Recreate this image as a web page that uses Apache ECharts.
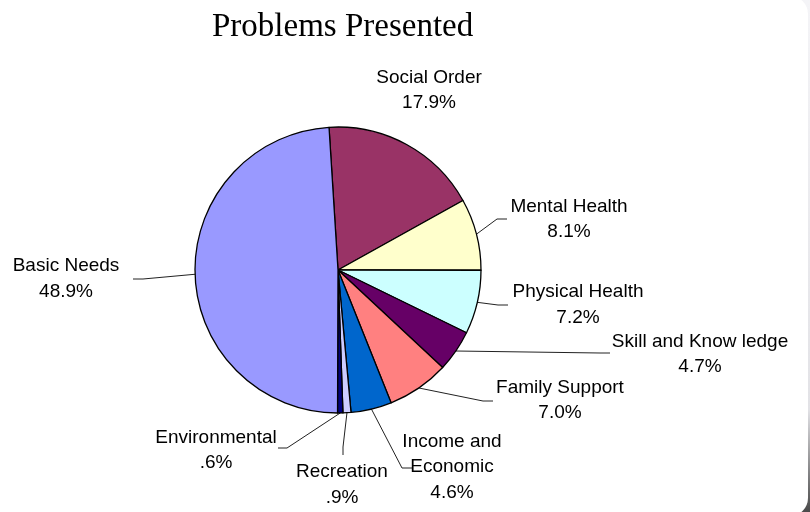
<!DOCTYPE html>
<html>
<head>
<meta charset="utf-8">
<script src="https://cdn.jsdelivr.net/npm/echarts@6/dist/echarts.min.js"></script>
<style>html,body{margin:0;padding:0;background:#fff}#c{width:810px;height:512px}</style>
</head>
<body>
<div id="c"></div>
<script>
// ---- data ----
const titleText = 'Problems Presented';
const categories = ['Social Order', 'Mental Health', 'Physical Health', 'Skill and Know ledge',
  'Family Support', 'Income and Economic', 'Recreation', 'Environmental', 'Basic Needs'];
const values = [17.9, 8.1, 7.2, 4.7, 7.0, 4.6, 0.9, 0.6, 48.9];
const colors = ['#993366', '#FFFFCC', '#CCFFFF', '#660066', '#FF8080', '#0066CC', '#CCCCFF', '#000080', '#9999FF'];

// ---- label layout (label block centre, leader line elbow & end) ----
const labelCenters = [[429, 90.5], [569, 219.5], [578, 305], [700, 354.5], [560, 400.5],
  [452, 467], [342, 485], [216, 450.5], [66, 279]];
const lineElbows = [null, [497, 219], [498, 305], [600, 353], [483, 401], [402, 468], [343, 447], [287, 448], [143, 279]];
const lineEnds = [null, [507, 219], [508, 305], [610, 353], [493, 401], [412, 468], [343, 455], [278, 448], [133, 279]];

function pct(v) {
  let s = v.toFixed(1);
  if (s.startsWith('0')) s = s.slice(1);
  return s + '%';
}

const data = categories.map((name, i) => ({
  name: name,
  value: values[i],
  itemStyle: { color: colors[i] },
  labelLine: { show: lineEnds[i] !== null }
}));

const chart = echarts.init(document.getElementById('c'), null, { renderer: 'canvas' });
chart.setOption({
  animation: false,
  backgroundColor: {
    type: 'linear', x: 0, y: 0, x2: 0, y2: 1,
    colorStops: [{ offset: 0, color: '#f4f4f7' }, { offset: 0.8, color: '#e2e2e6' }, { offset: 1, color: '#4a4a4a' }]
  },
  graphic: [{
    type: 'rect', z: -10, silent: true,
    shape: { x: -20, y: -4, width: 828, height: 520, r: 18 },
    style: { fill: '#ffffff' }
  }],
  title: {
    text: titleText,
    left: 207, top: 6,
    textStyle: { fontFamily: '"Liberation Serif", "Times New Roman", serif', fontSize: 33, fontWeight: 'normal', color: '#000' }
  },
  series: [{
    type: 'pie',
    center: [338, 270],
    radius: 143,
    startAngle: 93.6,
    clockwise: true,
    avoidLabelOverlap: false,
    emphasis: { disabled: true },
    itemStyle: { borderColor: '#000', borderWidth: 1.3 },
    label: {
      show: true,
      position: 'outside',
      fontFamily: '"Liberation Sans", Arial, sans-serif',
      fontSize: 19,
      lineHeight: 25.5,
      color: '#000',
      align: 'center',
      formatter: p => p.name.replace('Income and ', 'Income and\n') + '\n' + pct(p.value)
    },
    labelLine: { show: true, lineStyle: { color: '#222', width: 1 } },
    labelLayout: function (params) {
      const i = params.dataIndex;
      const res = {
        x: labelCenters[i][0], y: labelCenters[i][1],
        align: 'center', verticalAlign: 'middle'
      };
      if (lineEnds[i] && params.labelLinePoints) {
        res.labelLinePoints = [params.labelLinePoints[0], lineElbows[i], lineEnds[i]];
      }
      return res;
    },
    data: data
  }]
});
</script>
</body>
</html>
